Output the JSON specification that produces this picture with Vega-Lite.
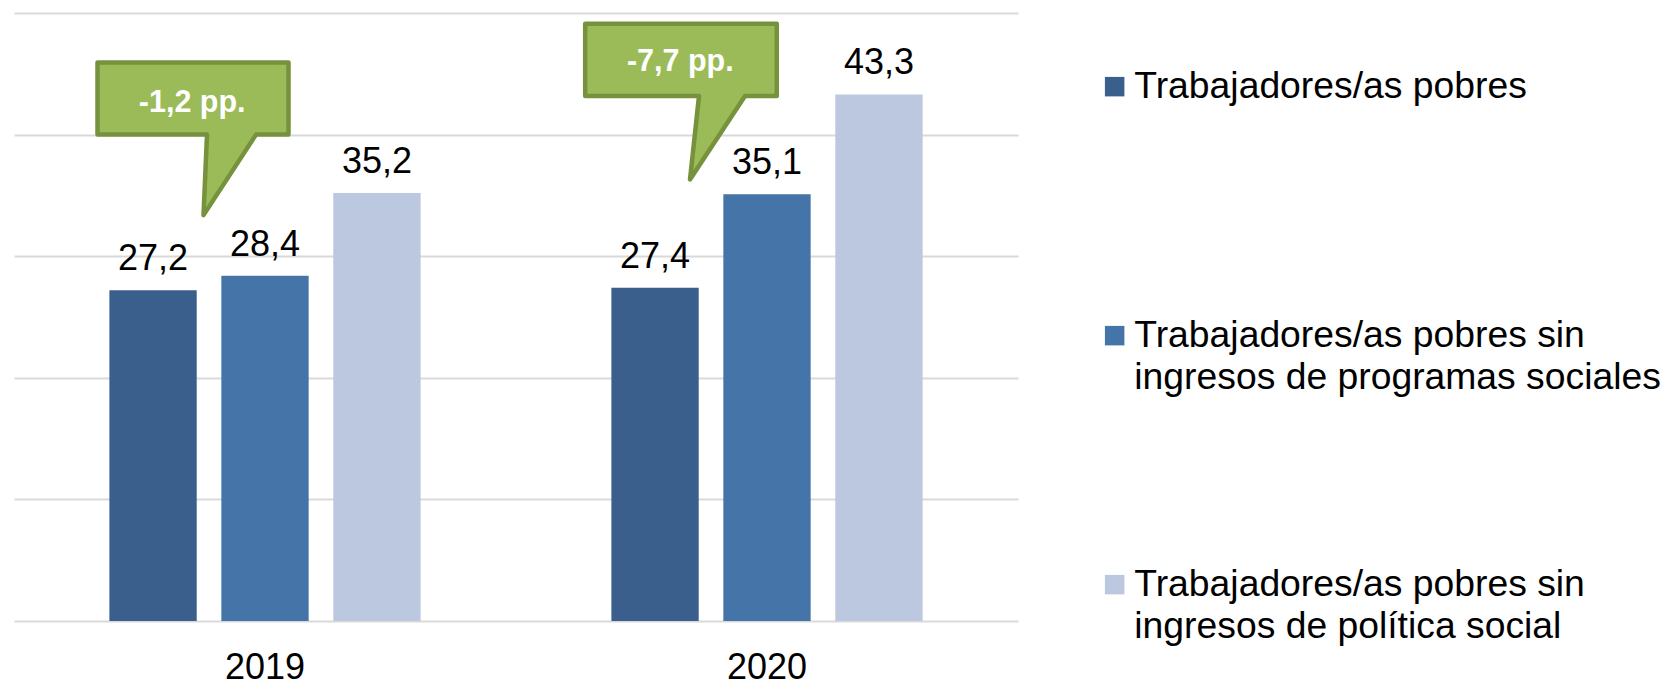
{
  "$schema": "https://vega.github.io/schema/vega-lite/v6.json",
  "autosize": "none",
  "width": 1004,
  "height": 608,
  "padding": {"left": 14, "top": 13, "right": 648, "bottom": 60},
  "config": {
    "view": {"stroke": null},
    "font": "Liberation Sans",
    "locale": {"number": {"decimal": ",", "thousands": ".", "grouping": [3], "currency": ["", " €"]}}
  },
  "datasets": {
    "bars": [
      {"year": "2019", "serie": "Trabajadores/as pobres", "value": 27.2},
      {"year": "2019", "serie": "Trabajadores/as pobres sin ingresos de programas sociales", "value": 28.4},
      {"year": "2019", "serie": "Trabajadores/as pobres sin ingresos de política social", "value": 35.2},
      {"year": "2020", "serie": "Trabajadores/as pobres", "value": 27.4},
      {"year": "2020", "serie": "Trabajadores/as pobres sin ingresos de programas sociales", "value": 35.1},
      {"year": "2020", "serie": "Trabajadores/as pobres sin ingresos de política social", "value": 43.3}
    ],
    "callouts": [
      {"year": "2019", "pos": 43.0, "label": "-1,2 pp."},
      {"year": "2020", "pos": 46.1, "label": "-7,7 pp."}
    ]
  },
  "layer": [
    {
      "data": {"name": "bars"},
      "mark": {"type": "bar"},
      "encoding": {
        "x": {
          "field": "year", "type": "nominal",
          "scale": {"paddingInner": 0.38, "paddingOuter": 0.19},
          "axis": {"title": null, "domain": false, "ticks": false, "grid": false, "labelAngle": 0, "labelFontSize": 36, "labelColor": "#000000", "labelBaseline": "alphabetic", "labelPadding": 57, "labelFont": "Liberation Sans"}
        },
        "xOffset": {
          "field": "serie", "type": "nominal",
          "scale": {"domain": ["Trabajadores/as pobres", "Trabajadores/as pobres sin ingresos de programas sociales", "Trabajadores/as pobres sin ingresos de política social"], "paddingInner": 0.22, "paddingOuter": 0}
        },
        "y": {
          "field": "value", "type": "quantitative",
          "scale": {"domain": [0, 50], "nice": false},
          "axis": {"title": null, "labels": false, "ticks": false, "domain": false, "values": [0, 10, 20, 30, 40, 50], "gridColor": "#D9D9D9", "gridWidth": 2}
        },
        "color": {
          "field": "serie", "type": "nominal",
          "scale": {
            "domain": ["Trabajadores/as pobres", "Trabajadores/as pobres sin ingresos de programas sociales", "Trabajadores/as pobres sin ingresos de política social"],
            "range": ["#3B5F8C", "#4574A8", "#BBC8E0"]
          },
          "legend": {
            "orient": "none",
            "legendX": 1082,
            "legendY": 55,
            "title": null,
            "padding": 0,
            "labelFontSize": 37.3,
            "labelFont": "Liberation Sans",
            "labelLimit": 0,
            "labelColor": "#000000",
            "labelOffset": 1,
            "labelBaseline": "middle",
            "symbolType": "square",
            "symbolSize": 380,
            "symbolStrokeWidth": 0,
            "symbolOpacity": 1,
            "rowPadding": 168,
            "labelExpr": "datum.label == 'Trabajadores/as pobres' ? ['Trabajadores/as pobres', ' '] : [slice(datum.label, 0, 26), slice(datum.label, 27)]",
            "encode": {"labels": {"update": {"dy": {"value": 0}, "lineHeight": {"value": 42.5}}}}
          }
        }
      }
    },
    {
      "data": {"name": "bars"},
      "mark": {"type": "text", "baseline": "alphabetic", "dy": -20, "fontSize": 36, "color": "#000000", "font": "Liberation Sans"},
      "encoding": {
        "x": {"field": "year", "type": "nominal"},
        "xOffset": {"field": "serie", "type": "nominal"},
        "y": {"field": "value", "type": "quantitative"},
        "text": {"field": "value", "type": "quantitative", "format": ".1f"}
      }
    },
    {
      "data": {"name": "callouts"},
      "transform": [{"filter": "datum.year == '2019'"}],
      "mark": {"type": "point", "filled": true, "opacity": 1, "size": 4, "fill": "#9BBB59", "stroke": "#76923C", "strokeWidth": 4.5, "strokeJoin": "round",
        "shape": "M-167.5,-35.5 L23.5,-35.5 L23.5,36.5 L-9,36.5 L-61.5,117 L-58,36.5 L-167.5,36.5 Z"},
      "encoding": {
        "x": {"field": "year", "type": "nominal"},
        "y": {"field": "pos", "type": "quantitative"}
      }
    },
    {
      "data": {"name": "callouts"},
      "transform": [{"filter": "datum.year == '2020'"}],
      "mark": {"type": "point", "filled": true, "opacity": 1, "size": 4, "fill": "#9BBB59", "stroke": "#76923C", "strokeWidth": 4.5, "strokeJoin": "round",
        "shape": "M-181.8,-36.7 L9.8,-36.7 L9.8,35.6 L-22,35.6 L-77,119 L-68,35.6 L-181.8,35.6 Z"},
      "encoding": {
        "x": {"field": "year", "type": "nominal"},
        "y": {"field": "pos", "type": "quantitative"}
      }
    },
    {
      "data": {"name": "callouts"},
      "transform": [{"filter": "datum.year == '2019'"}],
      "mark": {"type": "text", "baseline": "alphabetic", "align": "center", "dx": -72.8, "dy": 13.5, "fontSize": 30.5, "fontWeight": "bold", "color": "#FFFFFF", "font": "Liberation Sans"},
      "encoding": {
        "x": {"field": "year", "type": "nominal"},
        "y": {"field": "pos", "type": "quantitative"},
        "text": {"field": "label", "type": "nominal"}
      }
    },
    {
      "data": {"name": "callouts"},
      "transform": [{"filter": "datum.year == '2020'"}],
      "mark": {"type": "text", "baseline": "alphabetic", "align": "center", "dx": -86.7, "dy": 11, "fontSize": 30.5, "fontWeight": "bold", "color": "#FFFFFF", "font": "Liberation Sans"},
      "encoding": {
        "x": {"field": "year", "type": "nominal"},
        "y": {"field": "pos", "type": "quantitative"},
        "text": {"field": "label", "type": "nominal"}
      }
    }
  ]
}
